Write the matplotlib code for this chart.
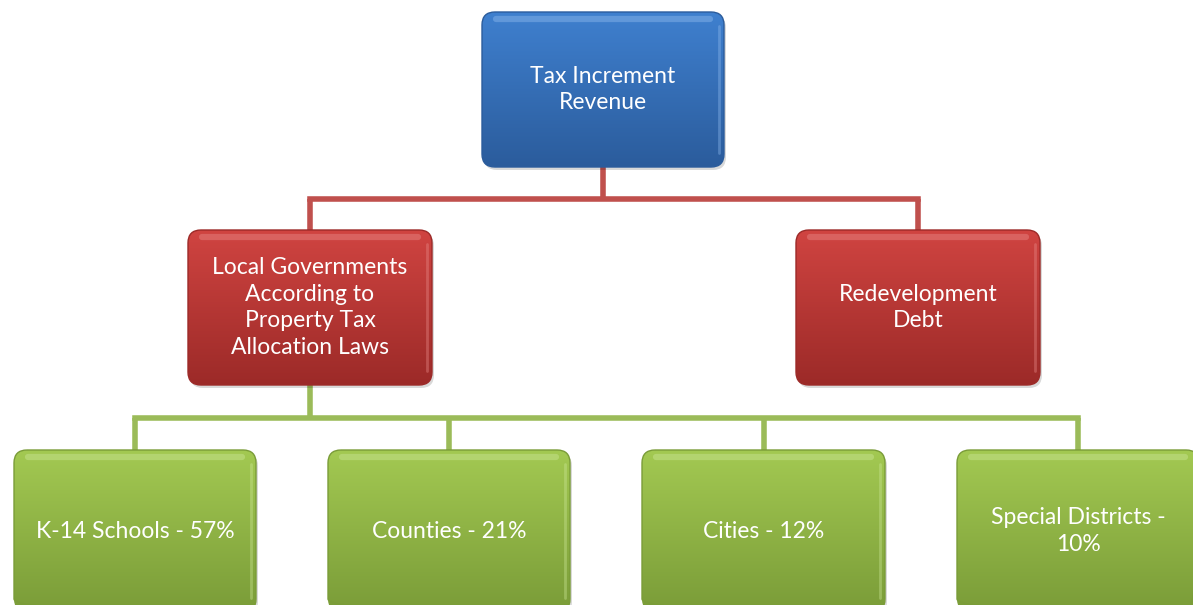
import numpy as np
import matplotlib
matplotlib.use("Agg")
import matplotlib.pyplot as plt
from matplotlib.patches import FancyBboxPatch
from matplotlib.colors import LinearSegmentedColormap

# ---- data ----
root_label = "Tax Increment\nRevenue"
level1_labels = ["Local Governments\nAccording to\nProperty Tax\nAllocation Laws", "Redevelopment\nDebt"]
level2_labels = ["K-14 Schools - 57%", "Counties - 21%", "Cities - 12%", "Special Districts -\n10%"]
level2_parent = 0  # children belong to first level-1 node

# ---- layout (pixel coordinates, y downward) ----
W, H = 1193, 605
fig = plt.figure(figsize=(W / 100, H / 100), dpi=100)
ax = fig.add_axes([0, 0, 1, 1])
ax.set_xlim(0, W)
ax.set_ylim(H, 0)
ax.axis("off")

FONT = ["Lato", "DejaVu Sans"]

root_box = (482, 12, 242, 155)
l1_boxes = [(188, 230, 244, 155), (796, 230, 244, 155)]
l2_boxes = [(14, 450, 242, 162), (328, 450, 242, 162), (642, 450, 243, 162), (957, 450, 242, 162)]

styles = {
    "blue": ("#3F80CF", "#2B5C9C", "#8DB8EC"),
    "red": ("#D04441", "#9C2A28", "#E88A88"),
    "green": ("#A3C952", "#7A9C38", "#CBE696"),
}
line_red = "#C0504D"
line_green = "#9BBB59"


def draw_box(box, label, style, fs=16.5):
    x, y, w, h = box
    top, bot, hi = styles[style]
    r = 13
    # shadow
    sh = FancyBboxPatch((x + 2, y + 3), w, h, boxstyle=f"round,pad=0,rounding_size={r}",
                        fc="#000000", ec="none", alpha=0.15, zorder=2)
    ax.add_patch(sh)
    patch = FancyBboxPatch((x, y), w, h, boxstyle=f"round,pad=0,rounding_size={r}",
                           fc="none", ec="none", zorder=3)
    ax.add_patch(patch)
    cmap = LinearSegmentedColormap.from_list("g", [top, bot])
    grad = np.linspace(0, 1, 256).reshape(-1, 1)
    im = ax.imshow(grad, cmap=cmap, extent=(x, x + w, y + h, y), aspect="auto",
                   zorder=3, interpolation="bilinear")
    im.set_clip_path(patch)
    # outline
    ol = FancyBboxPatch((x, y), w, h, boxstyle=f"round,pad=0,rounding_size={r}",
                        fc="none", ec=bot, lw=1.0, zorder=4)
    ax.add_patch(ol)
    # glossy top highlight
    ax.plot([x + 14, x + w - 14], [y + 7, y + 7], color=hi, lw=4.5, alpha=0.45,
            solid_capstyle="round", zorder=5)
    # right-side highlight
    ax.plot([x + w - 5, x + w - 5], [y + 14, y + h - 14], color=hi, lw=2, alpha=0.4,
            solid_capstyle="round", zorder=5)
    ax.text(x + w / 2, y + h / 2, label, ha="center", va="center", color="white",
            fontsize=fs, family=FONT, linespacing=1.32, zorder=6)


def connect(parent_box, child_boxes, color, mid_y):
    px, py, pw, ph = parent_box
    cx_p = px + pw / 2
    ax.plot([cx_p, cx_p], [py + ph, mid_y], color=color, lw=4, zorder=1, solid_capstyle="butt")
    centers = [b[0] + b[2] / 2 for b in child_boxes]
    ax.plot([min(centers), max(centers)], [mid_y, mid_y], color=color, lw=4, zorder=1,
            solid_capstyle="projecting")
    for c, b in zip(centers, child_boxes):
        ax.plot([c, c], [mid_y, b[1]], color=color, lw=4, zorder=1, solid_capstyle="butt")


connect(root_box, l1_boxes, line_red, 199)
connect(l1_boxes[level2_parent], l2_boxes, line_green, 418)

draw_box(root_box, root_label, "blue")
for b, lab in zip(l1_boxes, level1_labels):
    draw_box(b, lab, "red")
for b, lab in zip(l2_boxes, level2_labels):
    draw_box(b, lab, "green")

fig.savefig("out.png", dpi=100, facecolor="white")
